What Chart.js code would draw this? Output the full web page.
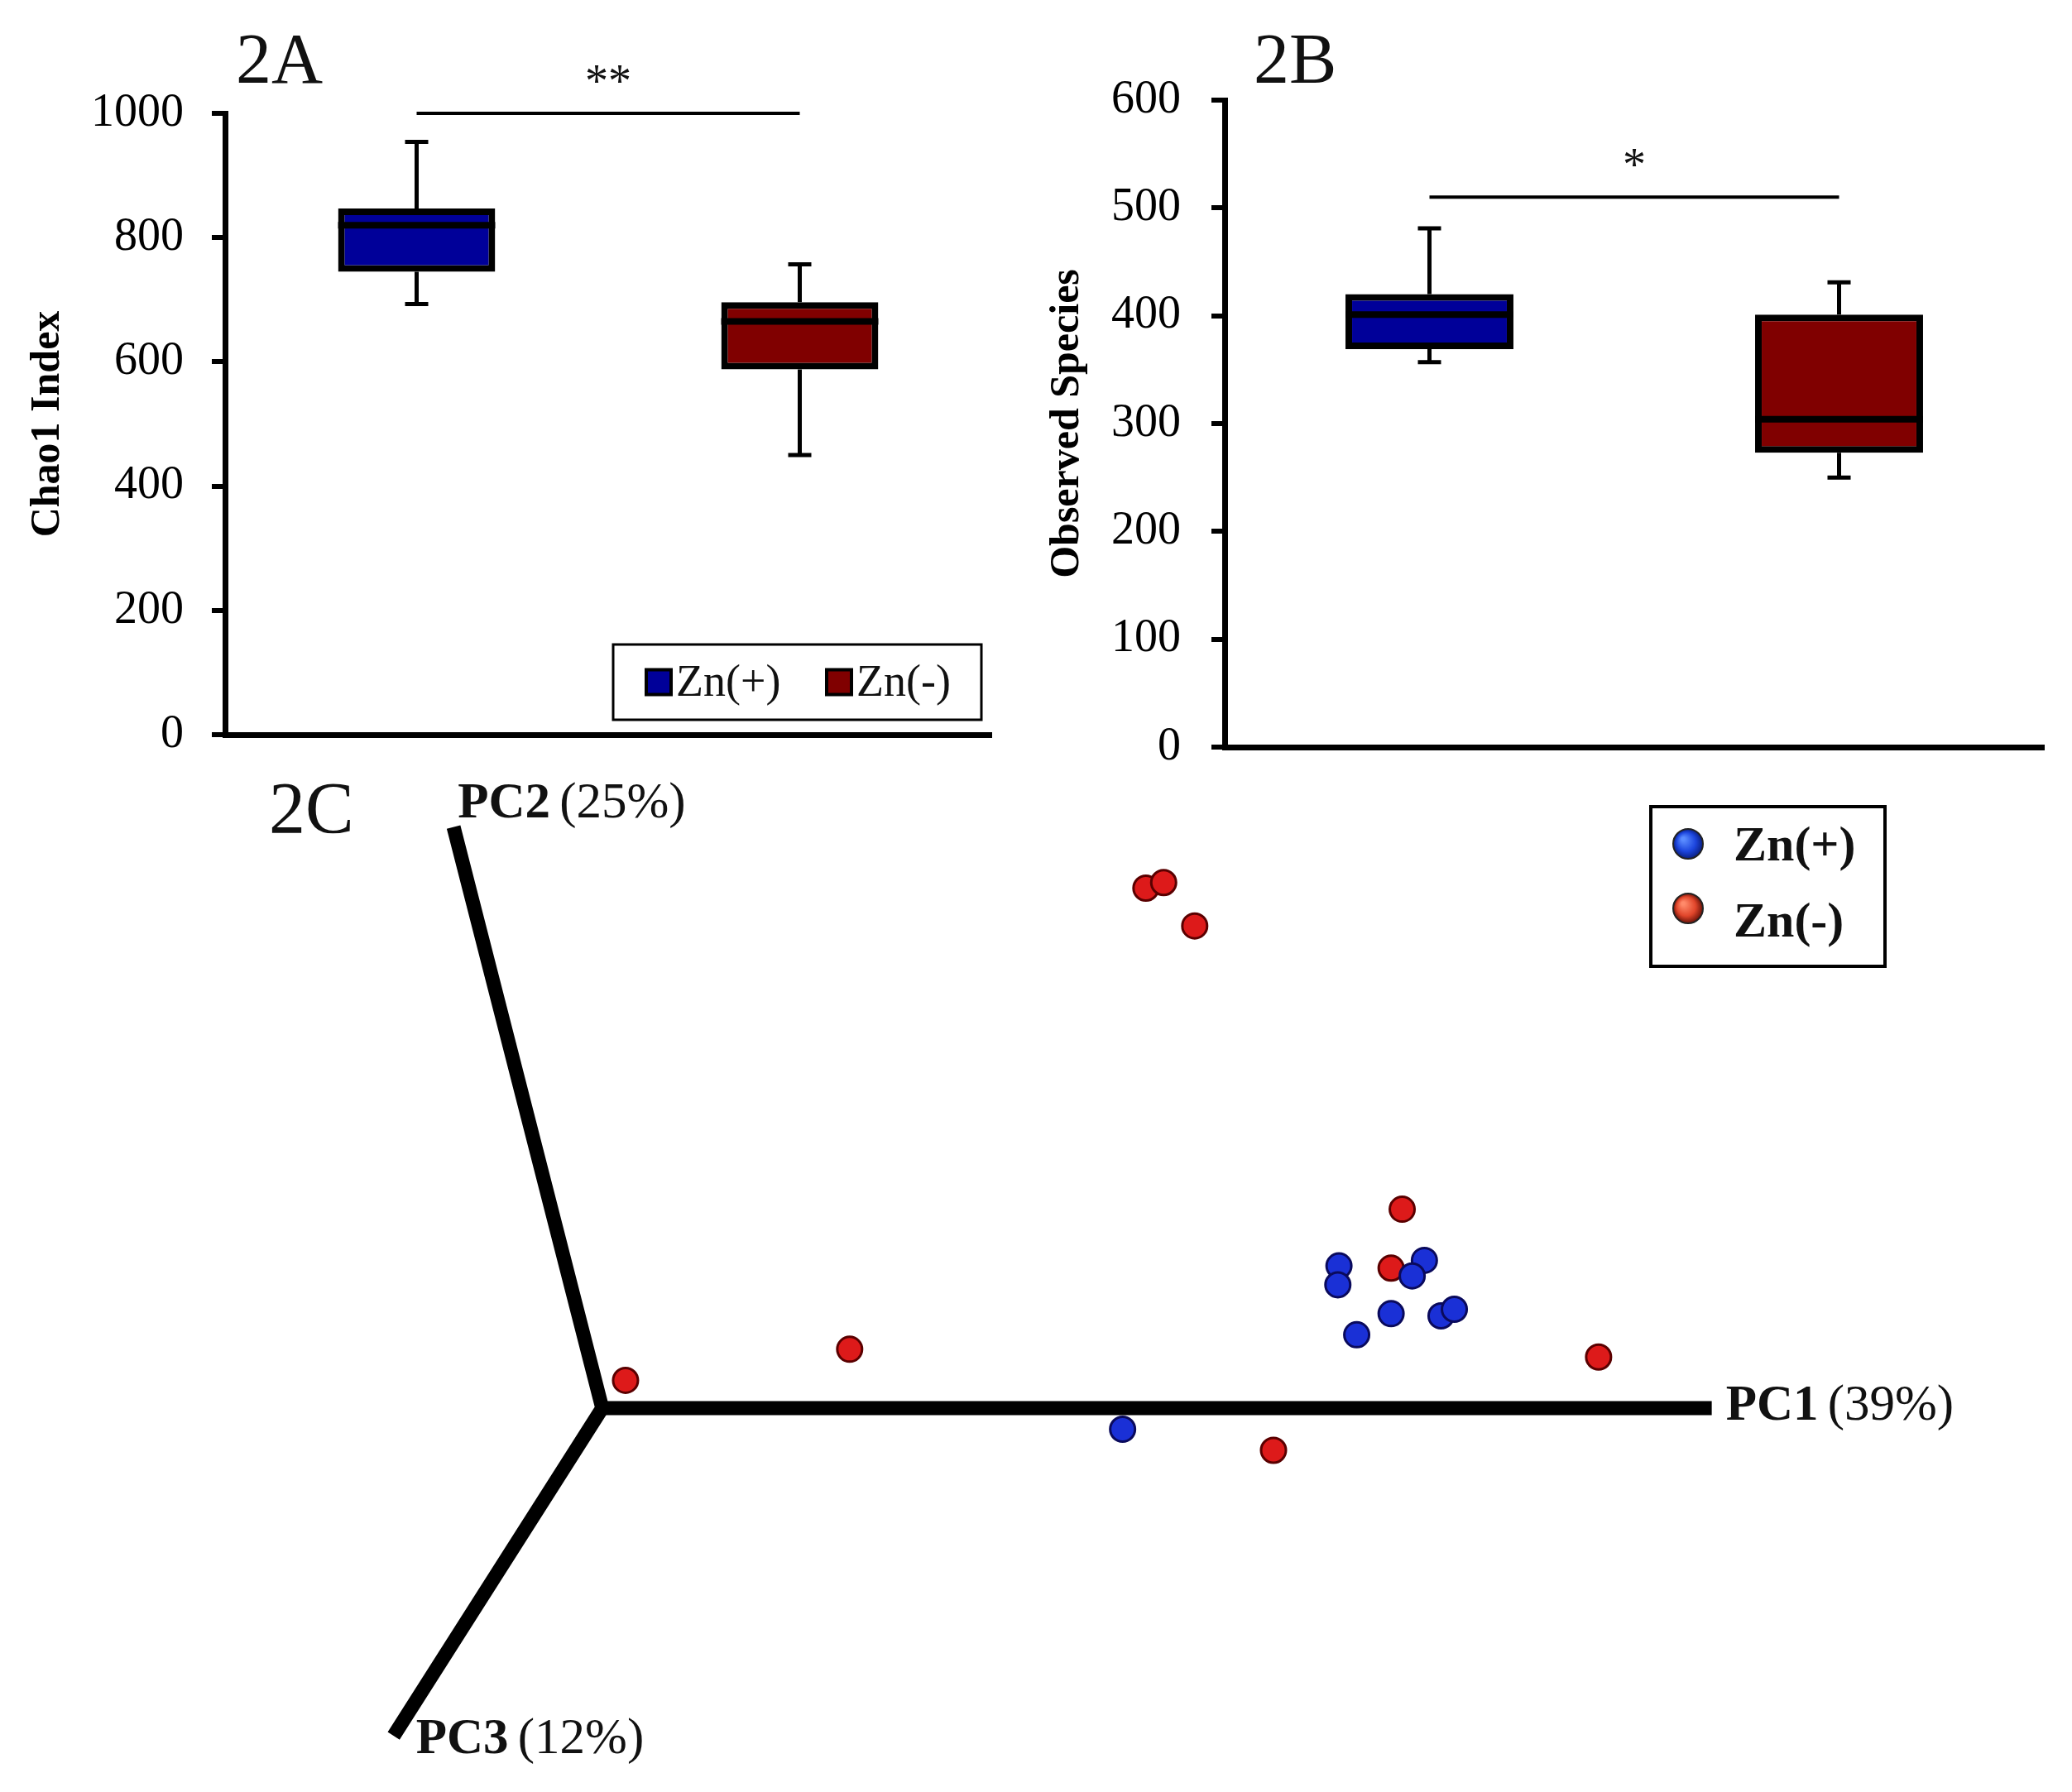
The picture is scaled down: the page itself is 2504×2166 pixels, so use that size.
<!DOCTYPE html>
<html><head><meta charset="utf-8">
<script src="https://cdn.jsdelivr.net/npm/chart.js@4.4.1/dist/chart.umd.min.js"></script>
<style>
html,body{margin:0;padding:0;background:#fff;}
#wrap{position:relative;width:2504px;height:2166px;overflow:hidden;background:#fff;}
.panel{position:absolute;}
</style></head><body>
<div id="wrap">
  <div class="panel" style="left:0;top:0;width:1250px;height:920px"><canvas id="cA"></canvas></div>
  <div class="panel" style="left:1250px;top:0;width:1254px;height:920px"><canvas id="cB"></canvas></div>
  <div class="panel" style="left:0;top:920px;width:2504px;height:1246px"><canvas id="cC"></canvas></div>
</div>
<script>
// ---------- DATA ----------
const groups = ['Zn(+)', 'Zn(-)'];
const groupColors = ['#000099', '#800000'];

// 2A Chao1 index box plots
const chaoMin    = [693, 450];
const chaoQ1     = [745, 588];
const chaoMedian = [820, 665];
const chaoQ3     = [847, 696];
const chaoMax    = [954, 757];
const chaoTicks  = [0, 200, 400, 600, 800, 1000];
const chaoSigLine = [1000, 1000];
const chaoSigMark = '**';

// 2B Observed species box plots
const obsMin    = [357, 250];
const obsQ1     = [369, 273];
const obsMedian = [401, 304];
const obsQ3     = [420, 401];
const obsMax    = [481, 431];
const obsTicks  = [0, 100, 200, 300, 400, 500, 600];
const obsSigLine = [510, 510];
const obsSigMark = '*';

// 2C PCoA (projected plot coordinates, PC1 axis length = 1)
const axisCodes = ['PC1', 'PC2', 'PC3'];
const axisVar   = ['(39%)', '(25%)', '(12%)'];
const axisEndX  = [1.000, -0.134, -0.188];
const axisEndY  = [0.000, 0.523, -0.295];
const plusX  = [0.664, 0.663, 0.741, 0.730, 0.711, 0.680, 0.756, 0.768, 0.469];
const plusY  = [0.128, 0.111, 0.133, 0.119, 0.085, 0.066, 0.083, 0.089, -0.019];
const minusX = [0.490, 0.506, 0.534, 0.721, 0.711, 0.223, 0.021, 0.898, 0.605];
const minusY = [0.468, 0.473, 0.434, 0.179, 0.126, 0.053, 0.025, 0.046, -0.038];

// ---------- HELPERS ----------
const SERIF = '"Liberation Serif","Times New Roman",serif';
Chart.defaults.font.family = SERIF;
Chart.defaults.color = '#000';
Chart.defaults.animation = false;

function boxPlugin(stats, sigMark, heading, legendBox) {
  return {
    id: 'boxExtras',
    beforeDatasetsDraw(chart) {
      const {ctx} = chart; const y = chart.scales.y;
      const meta = chart.getDatasetMeta(0);
      ctx.save();
      ctx.strokeStyle = '#000'; ctx.lineWidth = 5; ctx.lineCap = 'butt';
      meta.data.forEach((bar, i) => {
        const x = bar.x, cap = 28;
        const yMin = y.getPixelForValue(stats.min[i]);
        const yMax = y.getPixelForValue(stats.max[i]);
        const yQ1 = y.getPixelForValue(stats.q1[i]);
        const yQ3 = y.getPixelForValue(stats.q3[i]);
        ctx.beginPath();
        ctx.moveTo(x, yMax); ctx.lineTo(x, yQ3);
        ctx.moveTo(x, yQ1); ctx.lineTo(x, yMin);
        ctx.stroke();
        ctx.beginPath();
        ctx.moveTo(x - cap / 2, yMax); ctx.lineTo(x + cap / 2, yMax);
        ctx.moveTo(x - cap / 2, yMin); ctx.lineTo(x + cap / 2, yMin);
        ctx.stroke();
      });
      ctx.restore();
    },
    afterDatasetsDraw(chart) {
      const {ctx} = chart; const y = chart.scales.y;
      const meta = chart.getDatasetMeta(0);
      ctx.save();
      ctx.strokeStyle = '#000'; ctx.lineWidth = 8;
      meta.data.forEach((bar, i) => {
        const ym = y.getPixelForValue(stats.med[i]);
        ctx.beginPath();
        ctx.moveTo(bar.x - bar.width / 2, ym); ctx.lineTo(bar.x + bar.width / 2, ym);
        ctx.stroke();
      });
      // significance mark
      const sigMeta = chart.getDatasetMeta(1);
      const p0 = sigMeta.data[0], p1 = sigMeta.data[1];
      ctx.fillStyle = '#111';
      ctx.font = '56px ' + SERIF;
      ctx.textAlign = 'center'; ctx.textBaseline = 'alphabetic';
      ctx.fillText(sigMark, (p0.x + p1.x) / 2, p0.y - 20);
      // heading
      ctx.font = '86px ' + SERIF; ctx.textAlign = 'left';
      ctx.fillStyle = '#111';
      ctx.fillText(heading.text, heading.x, heading.y);
      // legend
      if (legendBox) {
        const L = legendBox;
        ctx.fillStyle = '#fff';
        ctx.fillRect(L.x, L.y, L.w, L.h);
        ctx.lineWidth = 3; ctx.strokeStyle = '#000';
        ctx.strokeRect(L.x, L.y, L.w, L.h);
        ctx.font = '54px ' + SERIF; ctx.textBaseline = 'middle';
        L.items.forEach((it, i) => {
          ctx.fillStyle = groupColors[i];
          ctx.fillRect(it.sx, L.y + L.h / 2 - 15, 30, 30);
          ctx.lineWidth = 4; ctx.strokeRect(it.sx, L.y + L.h / 2 - 15, 30, 30);
          ctx.fillStyle = '#111';
          ctx.fillText(groups[i], it.sx + 36, L.y + L.h / 2 + 2);
        });
      }
      ctx.restore();
    }
  };
}

function boxConfig(q1, q3, ticks, sigLine, yMax, step, title, pad, yWidth, tickPad, titlePad, plugin) {
  return {
    type: 'bar',
    data: {
      labels: groups,
      datasets: [{
        data: groups.map((g, i) => [q1[i], q3[i]]),
        backgroundColor: groupColors,
        borderColor: '#000',
        borderWidth: 8,
        borderSkipped: false,
        barPercentage: 0.41,
        categoryPercentage: 1.0
      }, {
        type: 'line',
        data: sigLine,
        borderColor: '#000',
        borderWidth: 4,
        pointRadius: 0,
        clip: false,
        fill: false
      }]
    },
    options: {
      responsive: true,
      maintainAspectRatio: false,
      layout: {padding: pad, autoPadding: false},
      plugins: {legend: {display: false}, tooltip: {enabled: false}},
      scales: {
        x: {
          type: 'category', offset: true,
          grid: {display: false},
          ticks: {display: false},
          border: {display: true, color: '#000', width: 7},
          afterFit(s) { s.height = 0; s.paddingLeft = 0; s.paddingRight = 0; s.paddingTop = 0; s.paddingBottom = 0; }
        },
        y: {
          min: 0, max: yMax,
          afterBuildTicks(s) { s.ticks = ticks.map(v => ({value: v})); },
          ticks: {stepSize: step, font: {size: 56, family: SERIF}, color: '#000', padding: tickPad,
                  callback: v => String(v)},
          grid: {drawOnChartArea: false, drawTicks: true, tickLength: 16, color: '#000', lineWidth: 6},
          border: {display: true, color: '#000', width: 7},
          title: {display: true, text: title, font: {size: 50, weight: 'bold', family: SERIF}, color: '#000', padding: {top: titlePad, bottom: 0}},
          afterFit(s) { s.width = yWidth; s.paddingTop = 0; s.paddingBottom = 0; s.paddingLeft = 0; s.paddingRight = 0; }
        }
      }
    },
    plugins: [plugin]
  };
}

// ---------- 2A ----------
new Chart(document.getElementById('cA'), boxConfig(
  chaoQ1, chaoQ3, chaoTicks, chaoSigLine, 1000, 200, 'Chao1 Index',
  {top: 137, right: 52, bottom: 32, left: 0}, 272, 34, 28,
  boxPlugin({min: chaoMin, q1: chaoQ1, med: chaoMedian, q3: chaoQ3, max: chaoMax}, chaoSigMark,
    {text: '2A', x: 285, y: 100},
    {x: 741, y: 779, w: 445, h: 91, items: [{sx: 781}, {sx: 999}]})
));

// ---------- 2B ----------
new Chart(document.getElementById('cB'), boxConfig(
  obsQ1, obsQ3, obsTicks, obsSigLine, 600, 100, 'Observed Species',
  {top: 121, right: 34, bottom: 17, left: 0}, 230, 37, 10,
  boxPlugin({min: obsMin, q1: obsQ1, med: obsMedian, q3: obsQ3, max: obsMax}, obsSigMark,
    {text: '2B', x: 265, y: 100}, null)
));

// ---------- 2C ----------
const pcaPlugin = {
  id: 'pcaExtras',
  afterDraw(chart) {
    const {ctx} = chart; const xs = chart.scales.x, ys = chart.scales.y;
    ctx.save();
    ctx.fillStyle = '#111';
    ctx.font = '88px ' + SERIF; ctx.textAlign = 'left'; ctx.textBaseline = 'alphabetic';
    ctx.fillText('2C', 325, 86);
    const offs = [{dx: 17, dy: -2, base: 'middle'}, {dx: 5, dy: -12, base: 'alphabetic'}, {dx: 27, dy: 5, base: 'middle'}];
    axisCodes.forEach((code, i) => {
      const px = xs.getPixelForValue(axisEndX[i]) + offs[i].dx;
      const py = ys.getPixelForValue(axisEndY[i]) + offs[i].dy;
      ctx.textBaseline = offs[i].base;
      ctx.font = 'bold 61px ' + SERIF;
      ctx.fillText(code, px, py);
      const w = ctx.measureText(code).width;
      ctx.font = '61px ' + SERIF;
      ctx.fillText(' ' + axisVar[i], px + w - 4, py);
    });
    // legend
    const L = {x: 1995, y: 55, w: 283, h: 193};
    ctx.lineWidth = 4; ctx.strokeStyle = '#000';
    ctx.strokeRect(L.x, L.y, L.w, L.h);
    const cols = [['#5a8cff', '#1c45dd', '#0a1f80'], ['#ff8a6a', '#e0452a', '#6a1208']];
    [100, 178].forEach((cy, i) => {
      const cx = 2040, r = 18;
      const g = ctx.createRadialGradient(cx - 6, cy - 6, 2, cx, cy, r);
      g.addColorStop(0, cols[i][0]); g.addColorStop(0.6, cols[i][1]); g.addColorStop(1, cols[i][2]);
      ctx.beginPath(); ctx.arc(cx, cy, r, 0, Math.PI * 2); ctx.fillStyle = g; ctx.fill();
      ctx.lineWidth = 2; ctx.strokeStyle = '#222'; ctx.stroke();
      ctx.fillStyle = '#111'; ctx.font = 'bold 60px ' + SERIF; ctx.textBaseline = 'alphabetic';
      ctx.fillText(groups[i], 2095, i === 0 ? 120 : 212);
    });
    ctx.restore();
  }
};

const axisLineStyle = {type: 'line', showLine: true, borderColor: '#000', borderWidth: 17, pointRadius: 0, tension: 0, borderCapStyle: 'butt', borderJoinStyle: 'miter', fill: false, clip: false};

new Chart(document.getElementById('cC'), {
  type: 'scatter',
  data: {
    datasets: [
      Object.assign({}, axisLineStyle, {
        data: [{x: axisEndX[1], y: axisEndY[1]}, {x: 0, y: 0}, {x: axisEndX[2], y: axisEndY[2]}], order: 3}),
      Object.assign({}, axisLineStyle, {
        data: [{x: -0.005, y: 0}, {x: axisEndX[0], y: axisEndY[0]}], order: 3}),
      {label: groups[0], data: plusX.map((v, i) => ({x: v, y: plusY[i]})),
        pointRadius: 15, pointBackgroundColor: '#1a30d6', pointBorderColor: '#0a0a5c', pointBorderWidth: 3, order: 1},
      {label: groups[1], data: minusX.map((v, i) => ({x: v, y: minusY[i]})),
        pointRadius: 15, pointBackgroundColor: '#dd1a1a', pointBorderColor: '#5a0000', pointBorderWidth: 3, order: 2}
    ]
  },
  options: {
    responsive: true, maintainAspectRatio: false,
    layout: {padding: 0, autoPadding: false},
    plugins: {legend: {display: false}, tooltip: {enabled: false}},
    scales: {
      x: {type: 'linear', display: false, min: -0.5428, max: 1.3247},
      y: {type: 'linear', display: false, min: -0.3455, max: 0.5823}
    }
  },
  plugins: [pcaPlugin]
});
</script>
</body></html>
